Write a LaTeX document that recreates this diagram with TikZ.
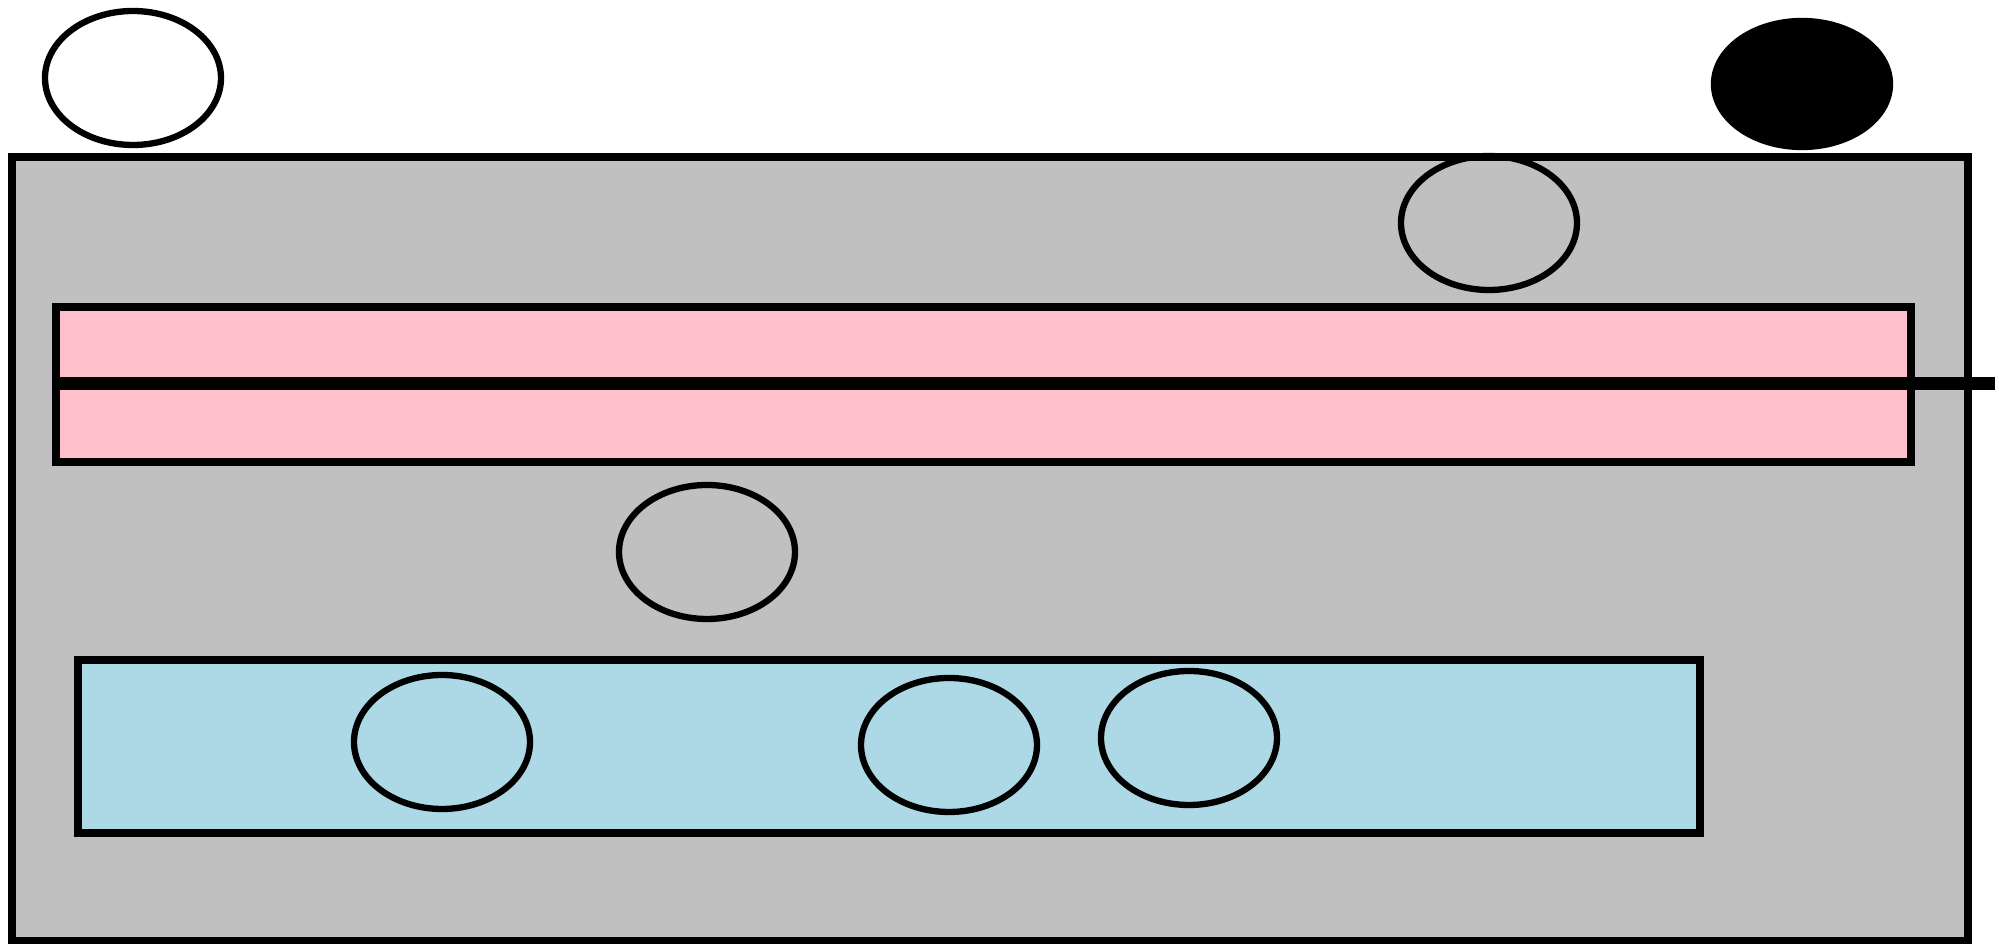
\documentclass[tikz,border=0pt]{standalone}
\usepackage{tikz}
\usepackage{xcolor}
\usetikzlibrary{shapes.geometric, positioning}
\definecolor{silvergray}{RGB}{192,192,192}
\definecolor{softpink}{RGB}{255,192,203}
\definecolor{paleblue}{RGB}{173,216,230}

\begin{document}
\begin{tikzpicture}[
        band/.style={rectangle, draw, line width=2pt, inner sep=0pt},
        ring/.style={ellipse, draw, line width=1.8pt, inner sep=0pt, minimum width=1.76cm, minimum height=1.34cm},
        rod/.style={line width=3.7pt}
    ]
        \useasboundingbox[fill=white] (0,0) rectangle (19.99,9.44);

        % Outer box
        \node[band, fill=silvergray, minimum width=19.56cm, minimum height=7.84cm] (frame) at (9.90,3.95) {};

        % Pink strip and the bar through it
        \node[band, fill=softpink, minimum width=18.55cm, minimum height=1.55cm] (strip) at (9.835,5.595) {};
        \coordinate (barend) at (19.95,5.60);
        \draw[rod] (strip.west |- barend) -- (barend);

        % Blue tray
        \node[band, fill=paleblue, minimum width=16.22cm, minimum height=1.73cm] (tray) at (8.89,1.975) {};

        % Rings above the box
        \node[ring, fill=white] (outside) at (1.33,8.66) {};
        \node[ring, fill=black, minimum width=1.76cm, minimum height=1.26cm] (solid) at (18.02,8.60) {};

        % Rings inside the box
        \node[ring] (upper) at (14.89,7.21) {};
        \node[ring] (middle) at (7.07,3.92) {};

        % Rings in the tray
        \node[ring] (tray1) at (4.42,2.02) {};
        \node[ring] (tray2) at (9.49,1.99) {};
        \node[ring] (tray3) at (11.89,2.06) {};

    \end{tikzpicture}
\end{document}
